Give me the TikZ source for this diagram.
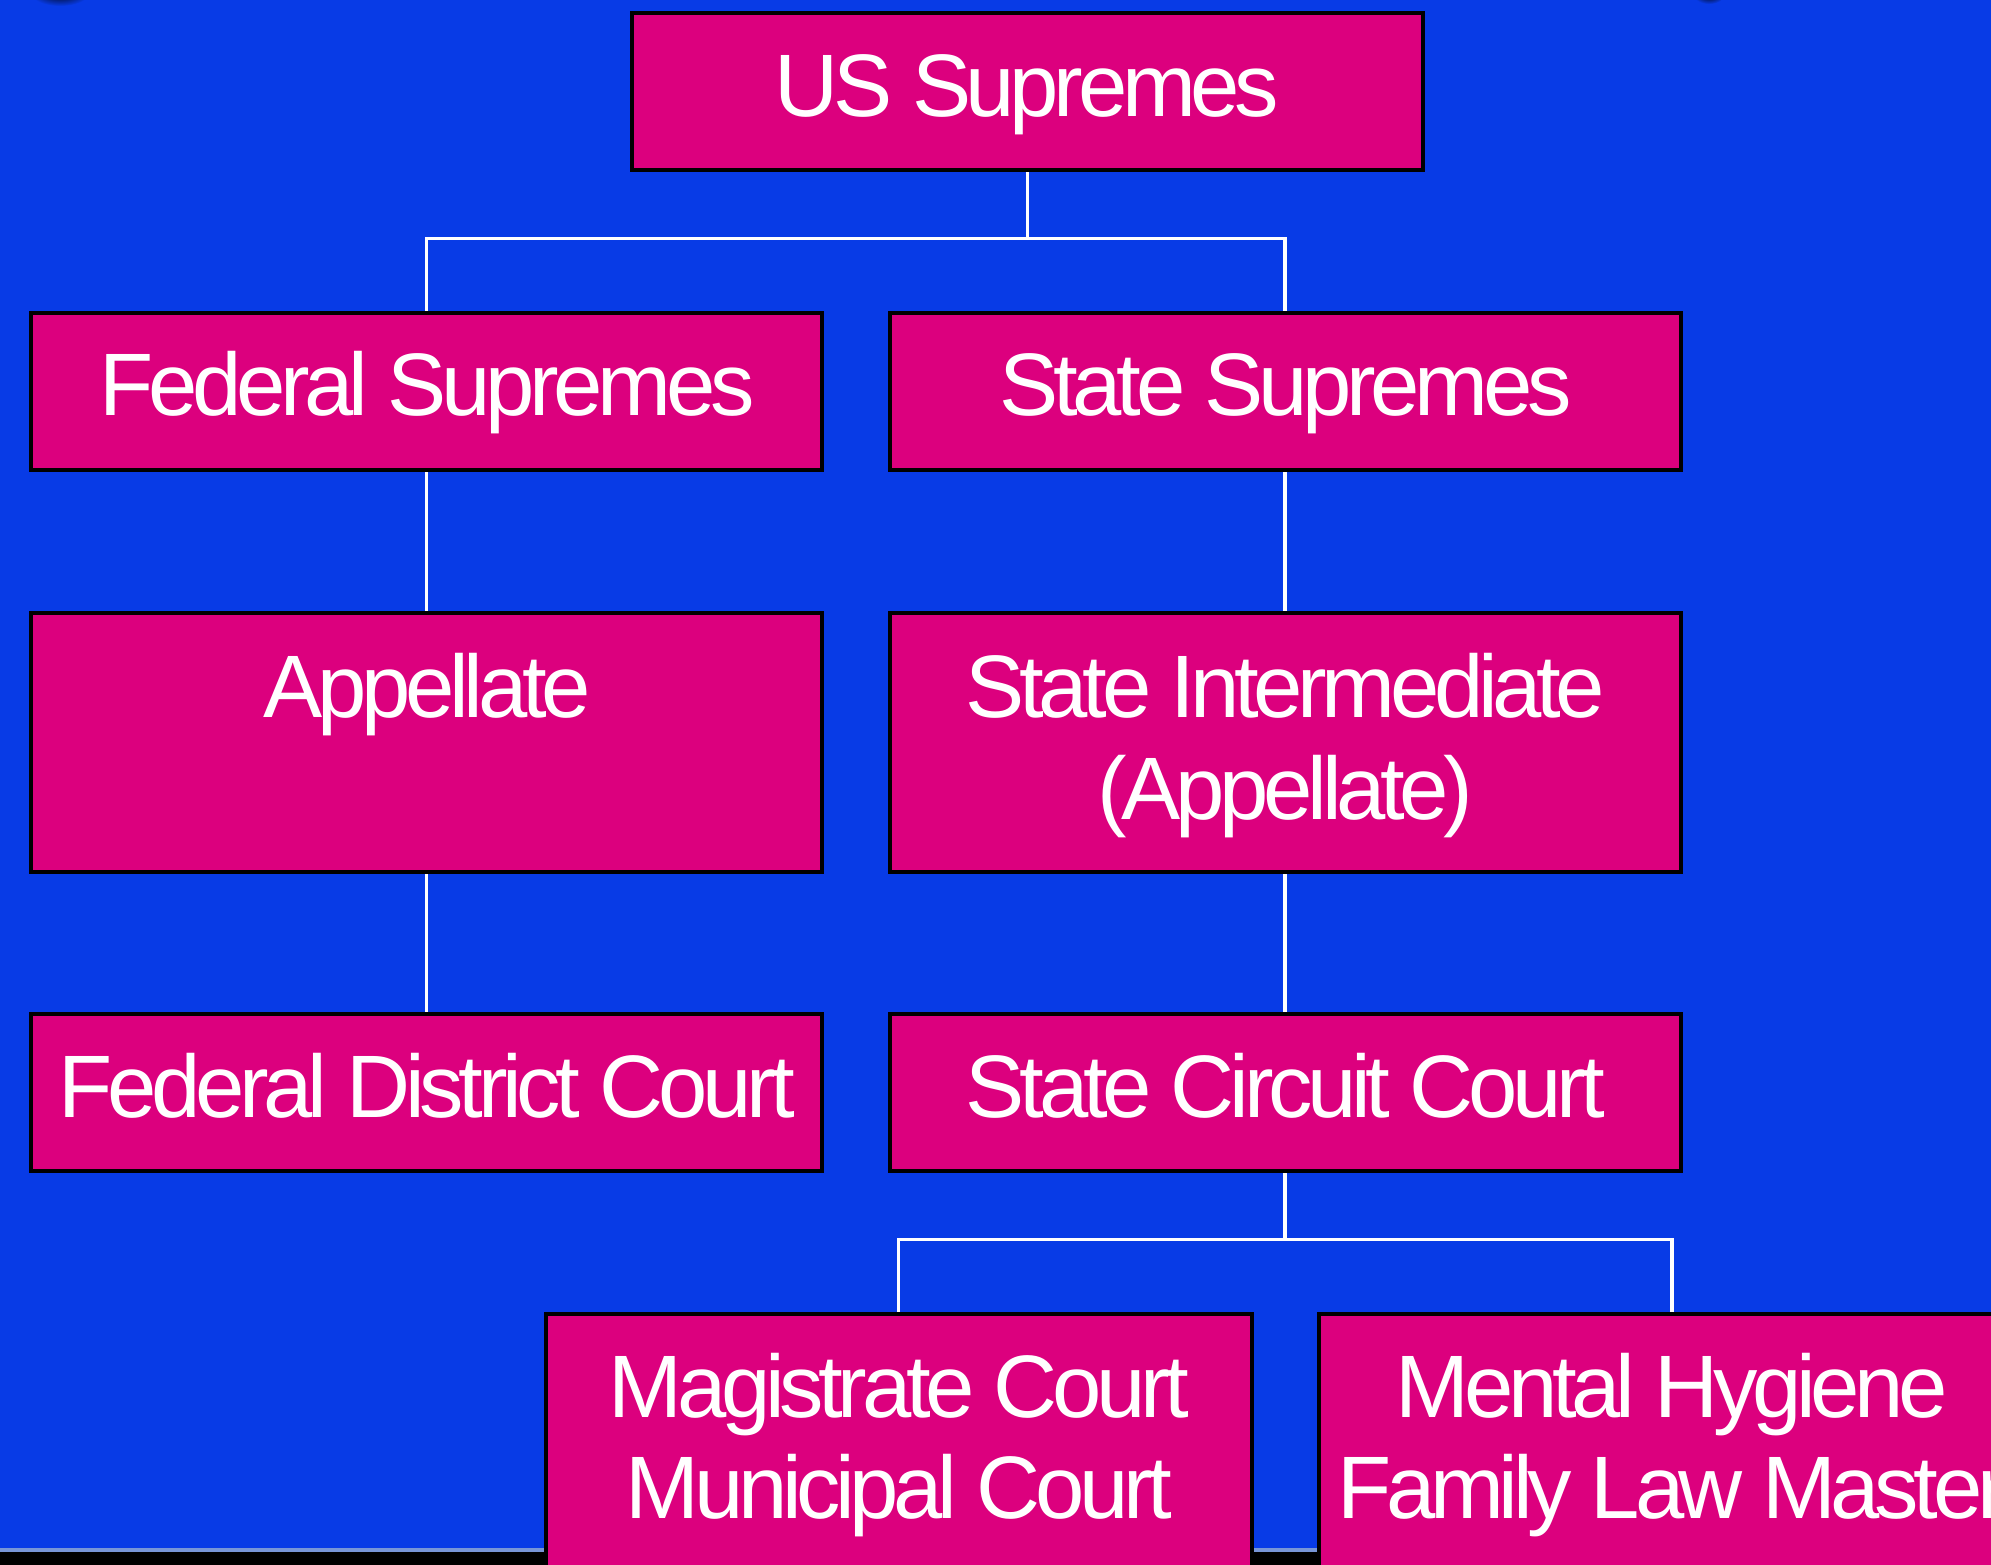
\documentclass[tikz,border=0pt]{standalone}
\usepackage{fontspec}
\setmainfont{Liberation Sans}[LetterSpace=-6]
\definecolor{slideblue}{RGB}{8,59,230}
\definecolor{courtpink}{RGB}{220,0,126}
\definecolor{rimblue}{RGB}{120,150,215}
\pgfdeclarelayer{bg}
\pgfdeclarelayer{links}
\pgfsetlayers{bg,links,main}
\begin{document}
\begin{tikzpicture}[x=1pt,y=-1pt,
  court/.style={draw=black, line width=4pt, fill=courtpink, inner sep=0pt,
    anchor=north west, minimum width=791pt, minimum height=157pt},
  lbl/.style={text=white, anchor=base, inner sep=0pt,
    font=\fontsize{88.7pt}{101.6pt}\selectfont},
  link/.style={draw=white, line width=3.5pt}]
\useasboundingbox (0,0) rectangle (1991,1564);
\clip (0,0) rectangle (1991,1564);

% slide background, bottom rule and the two dark blobs at the top edge
\begin{pgfonlayer}{bg}
  \fill[slideblue] (0,0) rectangle (1991,1564);
  \fill[black] (0,1552) rectangle (1991,1566);
  \fill[rimblue] (0,1548) rectangle (1991,1552);
  \shade[inner color=black, outer color=slideblue] (60,-8) ellipse (30pt and 14pt);
  \shade[inner color=black, outer color=slideblue] (1709,-6) ellipse (16pt and 10pt);
\end{pgfonlayer}

% court boxes
\node[court] (us)  at (630,11.4)   {};
\node[court] (fs)  at (29.2,311)   {};
\node[court] (ss)  at (887.6,311)  {};
\node[court, minimum height=259pt] (app) at (29.2,610.8)  {};
\node[court, minimum height=259pt] (si)  at (887.6,610.8) {};
\node[court] (fd)  at (29.2,1012)  {};
\node[court] (sc)  at (887.6,1012) {};
\node[court, minimum width=706pt, minimum height=300pt] (mag) at (543.5,1311.7)  {};
\node[court, minimum width=706pt, minimum height=300pt] (mh)  at (1316.8,1311.7) {};

% labels
\node[lbl] (tus)  at (1027,116.8) {US Supremes};
\node[lbl] (tfs)  at (427,415)    {Federal Supremes};
\node[lbl] (tss)  at (1285.5,415) {State Supremes};
\node[lbl] (tapp) at (427,717.4)  {Appellate};
\node[lbl] (tsi1) at (1285.5,717.4) {State Intermediate};
\node[lbl] (tsi2) at (1285.5,819)   {(Appellate)};
\node[lbl] (tfd)  at (427,1117.4)   {Federal District Court};
\node[lbl] (tsc)  at (1285.5,1117.4) {State Circuit Court};
\node[lbl] (tm1)  at (899,1417)   {Magistrate Court};
\node[lbl] (tm2)  at (899,1518.7) {Municipal Court};
\node[lbl] (th1)  at (1672,1417)   {Mental Hygiene};
\node[lbl] (th2)  at (1672,1518.7) {Family Law Master};

% connectors
\coordinate (j1) at (us.south |- 0,238.7);
\coordinate (j2) at (sc.south |- 0,1239.3);
\begin{pgfonlayer}{links}
  \draw[link] (us.south) -- (j1);
  \draw[link] (fs.north) -- (fs.north |- j1) -- (ss.north |- j1) -- (ss.north);
  \draw[link] (fs.south) -- (app.north);
  \draw[link] (ss.south) -- (si.north);
  \draw[link] (app.south) -- (fd.north);
  \draw[link] (si.south) -- (sc.north);
  \draw[link] (sc.south) -- (j2);
  \draw[link] (mag.north) -- (mag.north |- j2) -- (mh.north |- j2) -- (mh.north);
\end{pgfonlayer}
\end{tikzpicture}
\end{document}
